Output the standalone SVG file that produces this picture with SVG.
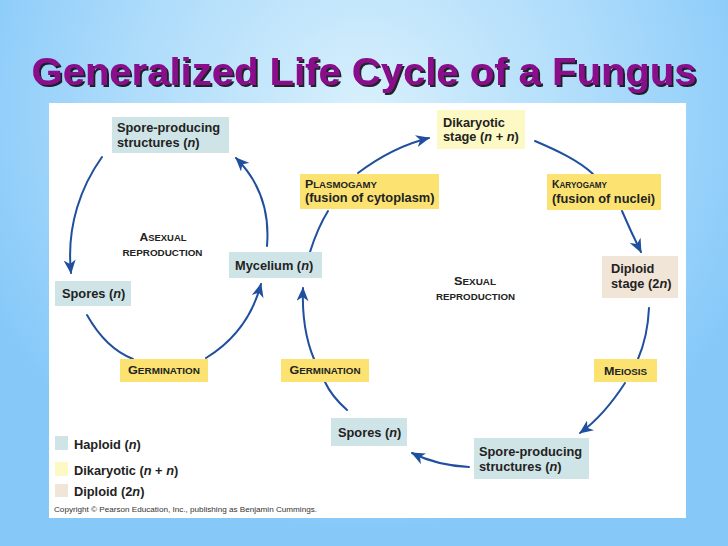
<svg xmlns="http://www.w3.org/2000/svg" width="728" height="546" viewBox="0 0 728 546">
<defs>
<radialGradient id="bg" cx="364" cy="110" r="420" gradientUnits="userSpaceOnUse">
<stop offset="0" stop-color="#d8f0fc"/>
<stop offset="0.55" stop-color="#aedcfb"/>
<stop offset="1" stop-color="#86c9f9"/>
</radialGradient>
<filter id="shadow" x="-5%" y="-20%" width="110%" height="140%">
<feOffset in="SourceAlpha" dx="2" dy="2" result="off"/>
<feComponentTransfer in="off" result="sh"><feFuncA type="linear" slope="0.85"/></feComponentTransfer>
<feMerge><feMergeNode in="sh"/><feMergeNode in="SourceGraphic"/></feMerge>
</filter>
<marker id="ah" markerUnits="userSpaceOnUse" markerWidth="14" markerHeight="12" viewBox="0 0 14 12" refX="13" refY="6" orient="auto">
<path d="M0,0 L14,6 L0,12 L4,6 z" fill="#1f4f9e"/>
</marker>
<style>
.hap{fill:#cfe4e6}
.yel{fill:#fbe271}
.dik{fill:#fdf9c4}
.dip{fill:#f1e5d8}
.t{font-family:"Liberation Sans",Arial,sans-serif;font-weight:bold;font-size:12.8px;fill:#222}
.sc{font-family:"Liberation Sans",Arial,sans-serif;font-weight:bold;font-size:9px;fill:#222}
.big{font-size:11.5px}
.i{font-style:italic}
.c{fill:none;stroke:#1f4f9e;stroke-width:2;stroke-linecap:round}
.a{marker-end:url(#ah)}
</style>
</defs>
<rect x="0" y="0" width="728" height="546" fill="url(#bg)"/>
<g id="title">
<text x="364" y="85" text-anchor="middle" font-family="Liberation Sans, Arial, sans-serif" font-weight="bold" font-size="39" fill="#8a0a8c" filter="url(#shadow)" textLength="665" lengthAdjust="spacingAndGlyphs">Generalized Life Cycle of a Fungus</text>
</g>
<rect id="panel" x="49" y="103" width="637" height="415" fill="#ffffff"/>

<g id="connectors">
<path class="c a" d="M102,157 C82,185 66,225 71,273"/>
<path class="c" d="M87,315 C100,338 115,352 133,359"/>
<path class="c a" d="M206,358 C232,342 252,318 261,284"/>
<path class="c a" d="M267,246 C270,210 258,180 236,158"/>
<path class="c" d="M310,252 C315,236 320,224 328,211"/>
<path class="c a" d="M358,173 C378,158 400,145 429,138"/>
<path class="c" d="M535,141 C556,150 578,160 593,174"/>
<path class="c a" d="M622,211 C628,225 634,238 641,252"/>
<path class="c" d="M649,308 C648,330 644,345 638,359"/>
<path class="c a" d="M625,383 C612,403 598,420 580,433"/>
<path class="c a" d="M469,467 C450,466 430,462 412,453"/>
<path class="c" d="M347,410 C338,402 330,393 325,382"/>
<path class="c a" d="M314,359 C306,340 302,315 303,288"/>
</g>

<g id="spore-producing-top">
<rect class="hap" x="112" y="117" width="117" height="36"/>
<text class="t" x="117" y="131.5">Spore-producing</text>
<text class="t" x="117" y="146.5">structures (<tspan class="i">n</tspan>)</text>
</g>
<g id="mycelium">
<rect class="hap" x="229" y="252" width="93" height="26"/>
<text class="t" x="235" y="269.5">Mycelium (<tspan class="i">n</tspan>)</text>
</g>
<g id="spores-left">
<rect class="hap" x="55" y="281" width="76" height="25"/>
<text class="t" x="62" y="297.5">Spores (<tspan class="i">n</tspan>)</text>
</g>
<g id="germination-left">
<rect class="yel" x="120" y="359" width="88" height="23"/>
<text class="sc" x="164" y="374" text-anchor="middle" textLength="72" lengthAdjust="spacingAndGlyphs"><tspan class="big">G</tspan>ERMINATION</text>
</g>
<g id="germination-right">
<rect class="yel" x="281" y="359" width="88" height="23"/>
<text class="sc" x="325" y="374" text-anchor="middle" textLength="71" lengthAdjust="spacingAndGlyphs"><tspan class="big">G</tspan>ERMINATION</text>
</g>
<g id="spores-middle">
<rect class="hap" x="331" y="418" width="76" height="28"/>
<text class="t" x="338" y="436.5">Spores (<tspan class="i">n</tspan>)</text>
</g>
<g id="spore-producing-bottom">
<rect class="hap" x="474" y="438" width="115" height="41"/>
<text class="t" x="479" y="456">Spore-producing</text>
<text class="t" x="479" y="470.5">structures (<tspan class="i">n</tspan>)</text>
</g>
<g id="meiosis">
<rect class="yel" x="594" y="359" width="63" height="23"/>
<text class="sc" x="625.5" y="375" text-anchor="middle" textLength="43" lengthAdjust="spacingAndGlyphs"><tspan class="big">M</tspan>EIOSIS</text>
</g>
<g id="diploid">
<rect class="dip" x="602" y="256" width="76" height="42"/>
<text class="t" x="611" y="273">Diploid</text>
<text class="t" x="611" y="288">stage (2<tspan class="i">n</tspan>)</text>
</g>
<g id="karyogamy">
<rect class="yel" x="547" y="174" width="114" height="36"/>
<text class="sc" x="552" y="188" textLength="55" lengthAdjust="spacingAndGlyphs"><tspan class="big">K</tspan>ARYOGAMY</text>
<text class="t" x="552" y="203">(fusion of nuclei)</text>
</g>
<g id="plasmogamy">
<rect class="yel" x="300" y="174" width="139" height="35"/>
<text class="sc" x="305" y="187.5" textLength="72" lengthAdjust="spacingAndGlyphs"><tspan class="big">P</tspan>LASMOGAMY</text>
<text class="t" x="305" y="202">(fusion of cytoplasm)</text>
</g>
<g id="dikaryotic">
<rect class="dik" x="437" y="110" width="88" height="39"/>
<text class="t" x="443" y="126.5">Dikaryotic</text>
<text class="t" x="443" y="141">stage (<tspan class="i">n</tspan> + <tspan class="i">n</tspan>)</text>
</g>
<g id="asexual-label">
<text class="sc" x="163" y="240.5" text-anchor="middle" textLength="47" lengthAdjust="spacingAndGlyphs"><tspan class="big">A</tspan>SEXUAL</text>
<text class="sc" x="162.5" y="255.5" text-anchor="middle" textLength="80" lengthAdjust="spacingAndGlyphs">REPRODUCTION</text>
</g>
<g id="sexual-label">
<text class="sc" x="475" y="284.5" text-anchor="middle" textLength="42" lengthAdjust="spacingAndGlyphs"><tspan class="big">S</tspan>EXUAL</text>
<text class="sc" x="475.5" y="299.5" text-anchor="middle" textLength="79" lengthAdjust="spacingAndGlyphs">REPRODUCTION</text>
</g>
<g id="legend">
<rect class="hap" x="55" y="436" width="13" height="14"/>
<text class="t" x="74" y="448.5">Haploid (<tspan class="i">n</tspan>)</text>
<rect class="dik" x="55" y="462" width="13" height="14"/>
<text class="t" x="74" y="474.5">Dikaryotic (<tspan class="i">n</tspan> + <tspan class="i">n</tspan>)</text>
<rect class="dip" x="55" y="484" width="13" height="13"/>
<text class="t" x="74" y="496">Diploid (2<tspan class="i">n</tspan>)</text>
</g>
<text id="copyright" x="54" y="511.5" font-family="Liberation Sans, Arial, sans-serif" font-size="7.5" fill="#333" textLength="263" lengthAdjust="spacingAndGlyphs">Copyright © Pearson Education, Inc., publishing as Benjamin Cummings.</text>
</svg>
